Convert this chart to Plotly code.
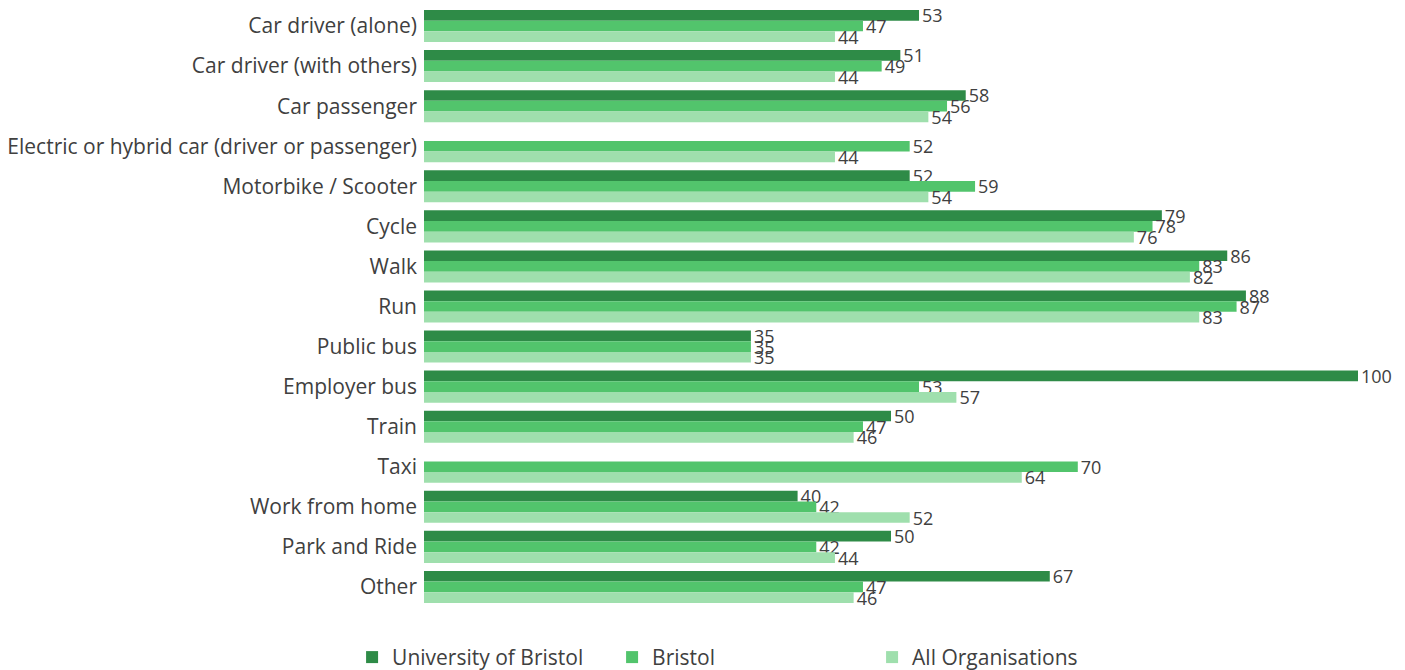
import plotly.graph_objects as go

categories = ["Car driver (alone)", "Car driver (with others)", "Car passenger",
              "Electric or hybrid car (driver or passenger)", "Motorbike / Scooter",
              "Cycle", "Walk", "Run", "Public bus", "Employer bus", "Train", "Taxi",
              "Work from home", "Park and Ride", "Other"]
uob = [53, 51, 58, None, 52, 79, 86, 88, 35, 100, 50, None, 40, 50, 67]
bristol = [47, 49, 56, 52, 59, 78, 83, 87, 35, 53, 47, 70, 42, 42, 47]
all_orgs = [44, 44, 54, 44, 54, 76, 82, 83, 35, 57, 46, 64, 52, 44, 46]

series = [("University of Bristol", uob, "#2e8b47"),
          ("Bristol", bristol, "#52c46c"),
          ("All Organisations", all_orgs, "#9fdfad")]

FONT = "Open Sans"

fig = go.Figure()
for name, vals, col in series:
    fig.add_trace(go.Bar(
        y=categories, x=vals, name=name, orientation="h",
        marker=dict(color=col, line=dict(width=0)),
        text=[("" if v is None else str(v)) for v in vals],
        textposition="outside", cliponaxis=False, constraintext="none",
        textfont=dict(size=18, color="#404040", family=FONT),
    ))

fig.update_layout(
    width=1405, height=670,
    barmode="group", bargap=0.2, bargroupgap=0,
    plot_bgcolor="white", paper_bgcolor="white",
    margin=dict(l=416, r=55, t=0, b=71, autoexpand=False),
    font=dict(family=FONT, size=21, color="#404040"),
    xaxis=dict(range=[0, 100], visible=False, showgrid=False, zeroline=False),
    yaxis=dict(range=[14.5, -0.45], showgrid=False, zeroline=False, showline=False,
               ticks="", ticklabelstandoff=6, tickfont=dict(size=21, color="#404040")),
    legend=dict(orientation="h", x=-0.077, xanchor="left", y=-0.05, yanchor="top",
                entrywidth=215, entrywidthmode="pixels",
                font=dict(size=21, color="#404040"), traceorder="normal"),
    showlegend=True,
)

fig.write_html("out.html")
